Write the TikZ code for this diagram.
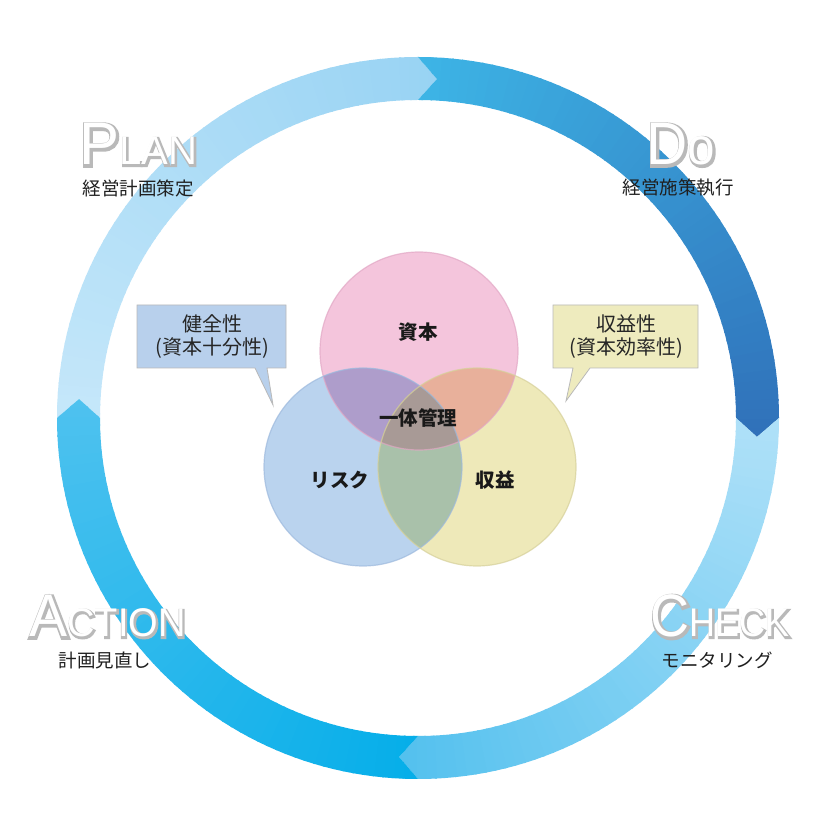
\documentclass[tikz,border=0pt]{standalone}
\usepackage{fontspec}
\setmainfont{Liberation Sans}
\newfontfamily\jp{Noto Sans CJK JP}
\newfontfamily\bigshadow[FakeBold=7]{Liberation Sans}
\usetikzlibrary{calc}
\definecolor{planA}{HTML}{C5E7FA}
\definecolor{planB}{HTML}{98D3F3}
\definecolor{doA}{HTML}{3DB5E6}
\definecolor{doB}{HTML}{3070B9}
\definecolor{chkA}{HTML}{B0E1F8}
\definecolor{chkB}{HTML}{52C0EE}
\definecolor{actA}{HTML}{05AEE9}
\definecolor{actB}{HTML}{4FC2EF}
\definecolor{pinkc}{HTML}{F4C5DC}
\definecolor{bluec}{HTML}{BAD3EE}
\definecolor{yelc}{HTML}{EEE9B9}
\definecolor{pbc}{HTML}{AE9DCB}
\definecolor{pyc}{HTML}{E8B09B}
\definecolor{byc}{HTML}{A9C1AA}
\definecolor{allc}{HTML}{A89A96}
\definecolor{pinkb}{HTML}{E2A7C5}
\definecolor{blueb}{HTML}{9DB9DD}
\definecolor{yelb}{HTML}{D6D09A}
\definecolor{calL}{HTML}{B8D0EC}
\definecolor{calR}{HTML}{EEEBBE}
\newcommand\myringseg[3]{%
\begin{scope}[shift={(418,418)}]
\clip ({#1}:361) arc[start angle={#1}, end angle={#1-90}, radius=361]
  -- ({#1-90-3.2}:339.5) -- ({#1-90}:318)
  arc[start angle={#1-90}, end angle={#1}, radius=318]
  -- ({#1-3.2}:339.5) -- cycle;
\foreach \k in {0,...,59}{%
  \pgfmathsetmacro\aone{#1+1-1.6*\k}
  \pgfmathsetmacro\atwo{\aone-1.9}
  \pgfmathtruncatemacro\pct{round(100*\k/59)}
  \fill[#3!\pct!#2] (0,0) -- (\aone:420) -- (\atwo:420) -- cycle;
}
\end{scope}}
\newcommand\biglbl[4]{%
  \node[big, text=gray!55, xscale=#3, font=\bigshadow\fontsize{60}{60}\selectfont] (#1s) at ($(#2)+(0.7,-0.7)$) {#4};
  \node[big, text=white, xscale=#3] (#1) at (#2) {#4};
}
\tikzset{
  big/.style={font=\fontsize{60}{60}\selectfont, inner sep=0, anchor=base},
  sublbl/.style={font=\jp\fontsize{18.5}{18.5}\selectfont, text=black!88, inner sep=0},
  venn/.style={font=\jp\bfseries\fontsize{19.5}{19.5}\selectfont, text=black!90, inner sep=0},
  calltxt/.style={font=\jp\fontsize{20}{23}\selectfont, align=center, inner sep=0, text=black!85},
}
\begin{document}
\begin{tikzpicture}[x=1pt,y=1pt]
\useasboundingbox (0,0) rectangle (836,836);
\fill[white] (0,0) rectangle (836,836);
% ring
\myringseg{180}{planA}{planB}
\myringseg{90}{doA}{doB}
\myringseg{0}{chkA}{chkB}
\myringseg{-90}{actA}{actB}
% venn
\coordinate (pk) at (419,485);
\coordinate (bl) at (363,369);
\coordinate (ye) at (477,369);
\fill[pinkc] (pk) circle (99);
\fill[bluec] (bl) circle (99);
\fill[yelc] (ye) circle (99);
\begin{scope}
  \clip (pk) circle (99);
  \fill[pbc] (bl) circle (99);
  \fill[pyc] (ye) circle (99);
\end{scope}
\begin{scope}
  \clip (bl) circle (99);
  \fill[byc] (ye) circle (99);
\end{scope}
\begin{scope}
  \clip (pk) circle (99);
  \clip (bl) circle (99);
  \fill[allc] (ye) circle (99);
\end{scope}
\draw[pinkb, line width=1.2, opacity=.7] (pk) circle (99);
\draw[blueb, line width=1.2, opacity=.7] (bl) circle (99);
\draw[yelb, line width=1.2, opacity=.7] (ye) circle (99);
\node[venn] (shihon) at (418,504) {資本};
\node[venn] (ittai) at (418,418) {一体管理};
\node[venn] (risk) at (340,356) {リスク};
\node[venn] (shueki) at (495,356) {収益};
% callouts
\filldraw[fill=calL, draw=gray!55, line width=0.8]
  (137,531) -- (286,531) -- (286,468) -- (267,468) -- (273,431) -- (255,468) -- (137,468) -- cycle;
\node[calltxt] (kenzen) at (212,499) {健全性\\(資本十分性)};
\filldraw[fill=calR, draw=gray!55, line width=0.8]
  (553,531) -- (698,531) -- (698,468) -- (590,468) -- (566,435) -- (573,468) -- (553,468) -- cycle;
\node[calltxt] (shuekisei) at (626,499) {収益性\\(資本効率性)};
% big labels
\biglbl{plan}{138.5,671}{1}{P{\fontsize{40}{40}\selectfont LAN}}
\biglbl{do}{681,671}{0.95}{D{\fontsize{52}{52}\selectfont o}}
\biglbl{action}{107.5,199}{0.95}{A{\fontsize{40}{40}\selectfont CTION}}
\biglbl{check}{720,199}{0.9}{C{\fontsize{40}{40}\selectfont HECK}}
\node[sublbl] (plansub) at (138,648) {経営計画策定};
\node[sublbl] (dosub) at (678,648) {経営施策執行};
\node[sublbl] (actsub) at (105,176) {計画見直し};
\node[sublbl] (chksub) at (717,176) {モニタリング};
\end{tikzpicture}
\end{document}
